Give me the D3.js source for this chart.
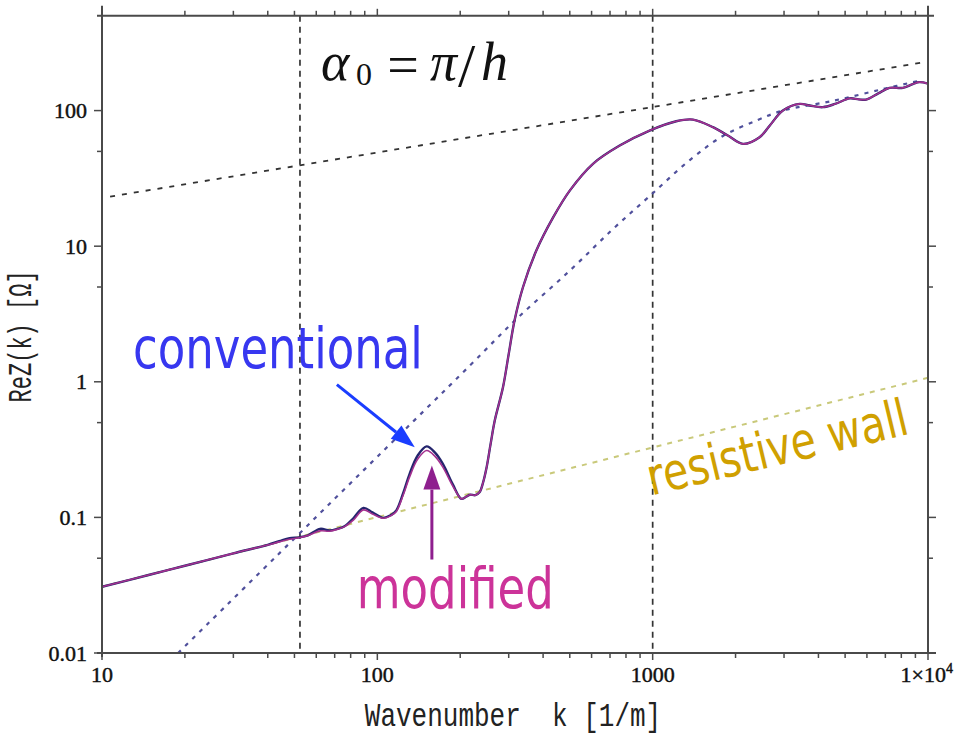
<!DOCTYPE html>
<html><head><meta charset="utf-8">
<script src="https://cdn.jsdelivr.net/npm/d3@7"></script>
<style>body{margin:0;background:#fff}svg{display:block}</style>
</head><body>
<div id="chart"></div>
<script>
// ---- data ----
const kValues = [10,15,20,30,40,44,48,52,56,62,67,72,76,82,89,96,105,112,117,124,131,140,151,162,173,188,202,210,217,227,235,242,249,258,267,286,300,315,338,378,435,500,607,759,975,1218,1400,1656,1875,2128,2445,2660,2971,3418,3715,4151,4600,5190,5600,5960,6600,7244,8100,8810,9310,10000];
const zConventional = [0.0308,0.0379,0.044,0.0543,0.0628,0.0667,0.0703,0.0713,0.0738,0.0823,0.080,0.0825,0.086,0.099,0.1175,0.109,0.0992,0.104,0.112,0.150,0.2094,0.285,0.334,0.300,0.248,0.175,0.137,0.142,0.147,0.146,0.153,0.180,0.230,0.350,0.518,0.911,1.6,2.83,4.98,9.28,16.3,25.7,40.5,55.2,71.2,83.4,85.8,75.4,65.5,56.8,63.6,77.4,100,112,109,106,112,123,121,120.5,134,147,147,157,162,158];
const zModified = [0.0308,0.0379,0.044,0.0543,0.0626,0.066,0.069,0.0708,0.0735,0.0795,0.079,0.082,0.0855,0.096,0.1136,0.106,0.0985,0.103,0.110,0.145,0.199,0.268,0.311,0.282,0.235,0.170,0.137,0.142,0.147,0.146,0.153,0.180,0.230,0.350,0.518,0.911,1.6,2.83,4.98,9.28,16.3,25.7,40.5,55.2,71.2,83.4,85.8,75.4,65.5,56.8,63.6,77.4,100,112,109,106,112,123,121,120.5,134,147,147,157,162,158];
const kAsym = [18.9,50,100,216.7,320,500,718,975,1361,1800,2400,2971,4519,6855,9300];
const zAsym = [0.01,0.07,0.28,1.316,2.9,6.6,13.4,23.4,43,65,85,100,118,144,166];
const kUpper = [10.7,9400];
const zUpper = [23.2,225];
const kWall = [10,10000];
const zWall = [0.0308,1.07];
const kMarkers = [52.36,1000];
const xTicks = [10,100,1000,10000];
const xTickLabels = ["10","100","1000","1×10^4"];
const yTicks = [0.01,0.1,1,10,100];
const yTickLabels = ["0.01","0.1","1","10","100"];
const yMinor = [0.05,0.5,5,50];
const xMinor = [];
[10,100,1000].forEach(d=>{for(let m=2;m<=9;m++) xMinor.push(d*m);});

// ---- layout ----
const W=955,H=735;
const L=102,R=928,T=15.8,B=653;
const x=d3.scaleLog().domain([10,1e4]).range([L,R]);
const y=d3.scaleLog().domain([0.01,500]).range([B,T]);

const svg=d3.select("#chart").append("svg").attr("width",W).attr("height",H);
svg.append("rect").attr("width",W).attr("height",H).attr("fill","#ffffff");

svg.append("defs").append("clipPath").attr("id","clip")
  .append("rect").attr("x",L).attr("y",T).attr("width",R-L).attr("height",B-T);

const plot=svg.append("g").attr("clip-path","url(#clip)");
const line=d3.line().x(d=>x(d[0])).y(d=>y(d[1]));
const smooth=d3.line().x(d=>x(d[0])).y(d=>y(d[1])).curve(d3.curveCatmullRom.alpha(0.5));

// vertical markers
plot.selectAll(".vm").data(kMarkers).join("line")
  .attr("x1",d=>x(d)).attr("x2",d=>x(d)).attr("y1",T).attr("y2",B)
  .attr("stroke","#333").attr("stroke-width",1.7).attr("stroke-dasharray","6,5");

// alpha box
const bx0=x(53.7), bx1=x(357.8), by0=y(376), by1=y(114.6);
svg.append("rect").attr("x",bx0).attr("y",by0).attr("width",bx1-bx0).attr("height",by1-by0).attr("fill","#fff");

// guides
plot.append("path").datum(d3.zip(kUpper,zUpper)).attr("d",line)
  .attr("fill","none").attr("stroke","#333").attr("stroke-width",1.8).attr("stroke-dasharray","5,7");
plot.append("path").datum(d3.zip(kWall,zWall)).attr("d",line)
  .attr("fill","none").attr("stroke","#c9c97a").attr("stroke-width",2).attr("stroke-dasharray","5,6");
plot.append("path").datum(d3.zip(kAsym,zAsym)).attr("d",smooth)
  .attr("fill","none").attr("stroke","#50509c").attr("stroke-width",2.2).attr("stroke-dasharray","4,6");

// curves
plot.append("path").datum(d3.zip(kValues,zConventional)).attr("d",smooth)
  .attr("fill","none").attr("stroke","#25256e").attr("stroke-width",2.4);
plot.append("path").datum(d3.zip(kValues,zModified)).attr("d",smooth)
  .attr("fill","none").attr("stroke","#a3308f").attr("stroke-width",1.6);

// ---- axes ----
const axCol="#4a4a4a";
const ax=svg.append("g").attr("stroke",axCol).attr("stroke-width",2).attr("fill","none");
ax.append("line").attr("x1",L-5).attr("x2",R+8).attr("y1",B).attr("y2",B);
ax.append("line").attr("x1",L-5).attr("x2",R+6).attr("y1",T).attr("y2",T);
ax.append("line").attr("x1",L).attr("x2",L).attr("y1",T-10).attr("y2",B+4);
ax.append("line").attr("x1",R).attr("x2",R).attr("y1",T-10).attr("y2",B);

function ticksX(vals,len){
  vals.forEach(v=>{
    ax.append("line").attr("x1",x(v)).attr("x2",x(v)).attr("y1",B).attr("y2",B+len).attr("stroke-width",1.5);
    ax.append("line").attr("x1",x(v)).attr("x2",x(v)).attr("y1",T).attr("y2",T-len).attr("stroke-width",1.5);
  });
}
function ticksY(vals,len){
  vals.forEach(v=>{
    ax.append("line").attr("y1",y(v)).attr("y2",y(v)).attr("x1",L).attr("x2",L-len).attr("stroke-width",1.5);
    ax.append("line").attr("y1",y(v)).attr("y2",y(v)).attr("x1",R).attr("x2",R+len).attr("stroke-width",1.5);
  });
}
ticksX(xTicks,7); ticksX(xMinor,5);
ticksY(yTicks,8); ticksY(yMinor,5);

const tf="'Liberation Serif','Times New Roman',serif";
svg.selectAll(".xl").data(xTicks).join("text")
  .attr("x",d=>x(d)).attr("y",682).attr("text-anchor","middle")
  .attr("font-family",tf).attr("font-size",22).attr("fill","#111")
  .attr("stroke","#111").attr("stroke-width",0.45)
  .each(function(d,i){
    const t=d3.select(this), s=xTickLabels[i];
    if(s.includes("^")){
      const [b,e]=s.split("^");
      t.attr("text-anchor","end").attr("x",x(d)+25);
      t.append("tspan").text(b);
      t.append("tspan").attr("dy",-9).attr("font-size",14).text(e);
    } else t.text(s);
  });
svg.selectAll(".yl").data(yTicks).join("text")
  .attr("x",L-15).attr("y",d=>y(d)).attr("dy","0.35em").attr("text-anchor","end")
  .attr("font-family",tf).attr("font-size",22).attr("fill","#111")
  .attr("stroke","#111").attr("stroke-width",0.45)
  .text((d,i)=>yTickLabels[i]);

// axis titles
const mf="'Liberation Mono','Courier New',monospace";
svg.append("text").attr("transform",`translate(${(L+R)/2-2},726) scale(1,1.25)`)
  .attr("text-anchor","middle").attr("font-family",mf).attr("font-size",26).attr("fill","#222")
  .style("white-space","pre").text("Wavenumber  k [1/m]");
svg.append("text").attr("transform",`translate(31,${(T+B)/2+2}) rotate(-90) scale(1,1.5)`)
  .attr("text-anchor","middle").attr("font-family",mf).attr("font-size",22).attr("fill","#222")
  .style("white-space","pre").text("ReZ(k) [Ω]");

// alpha label
const mt=svg.append("g").attr("font-family",tf).attr("fill","#111");
mt.append("text").attr("x",321).attr("y",80).attr("font-size",54).attr("font-style","italic").text("α");
mt.append("text").attr("x",356).attr("y",85).attr("font-size",32).text("0");
mt.append("text").attr("x",403).attr("y",84).attr("font-size",56).attr("text-anchor","middle").text("=");
mt.append("text").attr("x",430).attr("y",80).attr("font-size",54).attr("font-style","italic").text("π");
mt.append("text").attr("x",458).attr("y",86).attr("font-size",62).text("/");
mt.append("text").attr("x",481).attr("y",80).attr("font-size",54).attr("font-style","italic").text("h");

// annotations
const af="'DejaVu Sans',Verdana,sans-serif";
svg.append("text").attr("transform",`translate(${x(12.96)},${y(1.27)}) scale(1,1.25)`)
  .attr("font-family",af).attr("font-size",45).attr("fill","#3737f0").text("conventional");
svg.append("text").attr("transform",`translate(${x(84.2)},${y(0.0216)}) scale(1,1.25)`)
  .attr("font-family",af).attr("font-size",45).attr("fill","#cc3399").text("modified");
svg.append("text").attr("transform",`translate(${x(991)},${y(0.145)}) rotate(-13.4) scale(1,1.25)`)
  .attr("font-family",af).attr("font-size",41).attr("fill","#d0a000").text("resistive wall");

function arrow(k0,z0,k1,z1,col){
  const x0=x(k0),y0=y(z0),x1=x(k1),y1=y(z1);
  const a=Math.atan2(y1-y0,x1-x0), hl=24, hw=8.5;
  const bxp=x1-hl*Math.cos(a), byp=y1-hl*Math.sin(a);
  svg.append("line").attr("x1",x0).attr("y1",y0).attr("x2",bxp).attr("y2",byp)
    .attr("stroke",col).attr("stroke-width",3);
  svg.append("path").attr("fill",col).attr("d",
    `M${x1},${y1}L${bxp-hw*Math.sin(a)},${byp+hw*Math.cos(a)}L${bxp+hw*Math.sin(a)},${byp-hw*Math.cos(a)}Z`);
}
arrow(71.3,0.954,136.8,0.329,"#1a3dff");
arrow(157.8,0.0489,157.8,0.241,"#8e1f8e");
</script>
</body></html>
